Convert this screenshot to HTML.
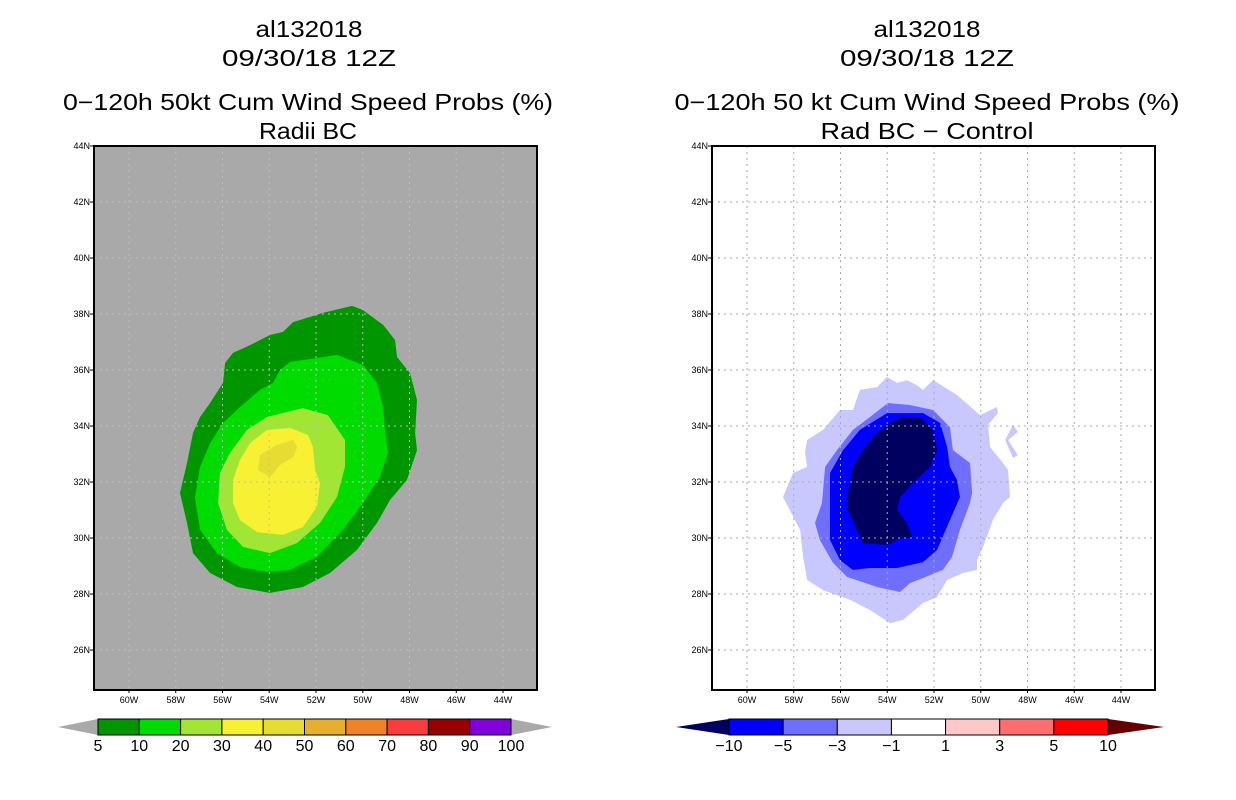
<!DOCTYPE html>
<html><head><meta charset="utf-8"><style>
html,body{margin:0;padding:0;background:#fff}
svg{display:block}
text{font-family:"Liberation Sans",sans-serif;fill:#000}
</style></head><body>
<svg id="chart" width="1236" height="800" xmlns="http://www.w3.org/2000/svg">
<rect width="1236" height="800" fill="#fff"/>
<g font-size="23">
<text x="309" y="37" text-anchor="middle" textLength="107" lengthAdjust="spacingAndGlyphs">al132018</text>
<text x="309" y="66" text-anchor="middle" textLength="174" lengthAdjust="spacingAndGlyphs">09/30/18 12Z</text>
<text x="308" y="110" text-anchor="middle" textLength="490" lengthAdjust="spacingAndGlyphs">0−120h 50kt Cum Wind Speed Probs (%)</text>
<text x="308" y="139" text-anchor="middle" textLength="98" lengthAdjust="spacingAndGlyphs">Radii BC</text>
</g>
<g font-size="23">
<text x="927" y="37" text-anchor="middle" textLength="107" lengthAdjust="spacingAndGlyphs">al132018</text>
<text x="927" y="66" text-anchor="middle" textLength="174" lengthAdjust="spacingAndGlyphs">09/30/18 12Z</text>
<text x="927" y="110" text-anchor="middle" textLength="505" lengthAdjust="spacingAndGlyphs">0−120h 50 kt Cum Wind Speed Probs (%)</text>
<text x="927" y="139" text-anchor="middle" textLength="213" lengthAdjust="spacingAndGlyphs">Rad BC − Control</text>
</g>
<g id="leftMap"></g>
<g id="rightMap"></g>
<g id="leftBar"></g>
<g id="rightBar"></g>
</svg>
<script>
const NS="http://www.w3.org/2000/svg";
// Axis ticks
const latTicks=[26,28,30,32,34,36,38,40,42,44];
const lonTicks=[60,58,56,54,52,50,48,46,44];
// Left panel contours (lonW, lat pairs)
const leftLevels=["5","10","20","30","40"];
const leftColors=["#009600","#00dc00","#a0e632","#f8f032","#e6dc32"];
const left5=[[50.46,38.29],[49.99,38.14],[49.13,37.61],[48.62,37.07],[48.53,36.46],[47.98,35.89],[47.68,34.93],[47.76,33.75],[47.68,33.14],[48.11,32.07],[48.83,31.36],[49.39,30.54],[50.25,29.57],[51.40,28.75],[52.56,28.25],[53.97,28.04],[55.38,28.25],[56.53,28.75],[57.26,29.46],[57.52,30.54],[57.82,31.61],[57.52,32.68],[57.26,33.75],[56.96,34.32],[56.53,34.82],[55.98,35.54],[55.89,36.25],[55.55,36.61],[54.82,36.89],[53.97,37.25],[53.41,37.36],[52.98,37.71],[51.70,38.04]];
const left10=[[51.10,36.54],[49.99,36.18],[49.39,35.54],[49.13,34.68],[49.05,33.86],[48.92,33.04],[49.26,32.18],[49.99,31.25],[50.84,30.29],[51.96,29.32],[53.11,28.86],[54.10,28.79],[55.25,28.96],[56.24,29.46],[56.96,30.29],[57.18,31.46],[56.96,32.54],[56.53,33.39],[55.98,34.11],[55.25,34.68],[54.40,35.29],[53.84,35.54],[53.54,36.00],[53.11,36.29],[51.96,36.43]];
const left20=[[52.56,34.64],[51.49,34.39],[50.76,33.50],[50.76,32.54],[51.10,31.46],[51.83,30.54],[52.81,29.82],[53.97,29.46],[55.12,29.68],[55.81,30.29],[56.19,31.25],[56.11,32.32],[55.68,33.04],[54.95,33.86],[54.10,34.32],[53.24,34.50]];
const left30=[[53.11,33.93],[52.34,33.68],[52.13,33.25],[52.04,32.43],[51.83,31.96],[51.96,31.11],[52.56,30.39],[53.41,30.11],[54.52,30.21],[55.25,30.64],[55.55,31.25],[55.55,32.07],[55.25,32.79],[54.82,33.39],[54.10,33.86]];
const left40=[[53.67,33.32],[52.98,33.50],[52.81,33.25],[52.98,32.89],[53.54,32.61],[53.97,32.18],[54.48,32.43],[54.40,32.96]];
// Right panel contours
const rightLevels=["-1","-3","-5","-10"];
const rightColors=["#c8c8ff","#6e6eff","#0000ff","#000060"];
const right1=[[54.01,35.75],[53.58,35.54],[53.16,35.64],[52.73,35.46],[52.47,35.29],[52.04,35.64],[51.02,35.11],[50.03,34.39],[49.30,34.68],[49.26,34.46],[49.69,34.04],[49.60,33.25],[49.05,32.68],[48.83,32.43],[48.75,31.46],[49.05,31.25],[49.48,30.64],[49.90,29.68],[50.16,29.21],[50.16,28.86],[50.76,28.75],[51.44,28.50],[51.87,27.89],[52.47,27.68],[53.33,27.07],[53.88,26.96],[54.74,27.43],[55.59,27.79],[56.75,28.14],[57.43,28.50],[57.60,29.32],[57.73,30.29],[58.46,31.46],[58.03,32.32],[57.43,32.54],[57.52,33.04],[57.43,33.50],[56.75,33.86],[56.02,34.57],[55.47,34.57],[55.17,35.29],[54.44,35.39]];
const right1b=[[48.62,34.04],[48.41,33.79],[48.83,33.50],[48.41,32.96],[48.62,32.86],[48.96,33.50]];
const right3=[[53.97,34.82],[53.03,34.75],[52.04,34.57],[51.32,33.96],[51.19,33.14],[50.46,32.68],[50.37,31.61],[50.46,31.25],[50.89,30.29],[51.23,29.32],[51.62,28.86],[52.47,28.57],[53.03,28.39],[53.45,28.07],[54.44,28.25],[55.72,28.61],[56.32,29.11],[56.88,29.93],[57.09,30.54],[56.79,31.25],[56.66,32.54],[56.15,33.14],[55.47,33.86],[54.74,34.32]];
const right5=[[54.01,34.46],[52.47,34.46],[51.74,34.11],[51.44,33.25],[51.32,32.54],[51.02,32.07],[50.89,31.46],[51.32,30.64],[51.87,29.57],[52.47,29.14],[53.58,28.93],[54.74,28.93],[55.47,28.86],[56.02,29.21],[56.45,29.93],[56.45,31.00],[56.45,32.32],[55.89,33.14],[55.17,33.86]];
const right10=[[53.45,34.29],[52.60,34.32],[52.04,33.86],[51.87,33.14],[52.17,32.54],[52.90,31.96],[53.45,31.46],[53.58,31.00],[53.16,30.54],[52.94,30.00],[53.45,30.00],[54.01,29.75],[55.04,29.82],[55.30,30.29],[55.68,31.00],[55.68,31.61],[55.47,32.54],[55.04,33.14],[54.44,33.75],[53.88,34.11]];
// Colorbars
const leftBarLabels=["5","10","20","30","40","50","60","70","80","90","100"];
const leftBarColors=["#009600","#00dc00","#a0e632","#f8f032","#e6dc32","#e6af2d","#f08228","#fa3c3c","#960000","#8200dc"];
const rightBarLabels=["−10","−5","−3","−1","1","3","5","10"];
const rightBarColors=["#0000ff","#6e6eff","#c8c8ff","#ffffff","#ffc8c8","#ff6e6e","#ff0000"];

function mk(tag,attrs,parent){const e=document.createElementNS(NS,tag);for(const k in attrs)e.setAttribute(k,attrs[k]);parent.appendChild(e);return e;}
function makeAxes(x0){
  return {x:lon=>x0+(60-lon)*23.375, y:lat=>146+(44-lat)*28};
}
function drawMap(g,x0,left,bg,polys,colors,gridColor){
  const ax=makeAxes(x0);
  const L=left,R=left+443,T=146,B=690;
  const bgr=mk('rect',{x:L,y:T,width:R-L,height:B-T,fill:bg},g);
  
  
  polys.forEach((p,i)=>{
    const path=mk('polygon',{points:p.map(q=>ax.x(q[0]).toFixed(1)+','+ax.y(q[1]).toFixed(1)).join(' '),fill:colors[i]},g);
    
    
  });
  lonTicks.forEach(lon=>{
    const x=ax.x(lon);
    const l=mk('line',{x1:x,x2:x,y1:T,y2:B,stroke:gridColor,'stroke-width':1,'stroke-dasharray':'2,4'},g);
    
    
    const t=mk('text',{x:x,y:B+13,'font-size':9,'text-anchor':'middle'},g);
    t.textContent=lon+'W';
    
    
    mk('line',{x1:x,x2:x,y1:B,y2:B+3,stroke:'#000'},g);
  });
  latTicks.forEach(lat=>{
    const y=ax.y(lat);
    if(lat<44){
      const l=mk('line',{x1:L,x2:R,y1:y,y2:y,stroke:gridColor,'stroke-width':1,'stroke-dasharray':'2,4'},g);
      
      
    }
    mk('line',{x1:L-4,x2:L,y1:y,y2:y,stroke:'#000'},g);
    const t=mk('text',{x:L-4,y:y+3,'font-size':9,'text-anchor':'end'},g);
    t.textContent=lat+'N';
    
    
  });
  const fr=mk('rect',{x:L,y:T,width:R-L,height:B-T,fill:'none',stroke:'#000','stroke-width':2},g);
  
  
}
drawMap(document.getElementById('leftMap'),129,94,'#a9a9a9',[left5,left10,left20,left30,left40],leftColors,'#bdbdbd');
drawMap(document.getElementById('rightMap'),747,712,'#ffffff',[right1,right1b,right3,right5,right10],[rightColors[0],rightColors[0],rightColors[1],rightColors[2],rightColors[3]],'#aaaaaa');

function drawBar(g,x0,x1,tipL,tipR,colors,labels,tipLC,tipRC){
  const y0=719,y1=735,ym=727,w=(x1-x0)/colors.length;
  const a=mk('polygon',{points:`${tipL},${ym} ${x0},${y0} ${x0},${y1}`,fill:tipLC},g);
  
  
  const b=mk('polygon',{points:`${tipR},${ym} ${x1},${y0} ${x1},${y1}`,fill:tipRC},g);
  
  
  colors.forEach((c,i)=>{
    const r=mk('rect',{x:x0+i*w,y:y0,width:w,height:y1-y0,fill:c,stroke:'#000','stroke-width':1},g);
    
    
  });
  labels.forEach((s,i)=>{
    const t=mk('text',{x:x0+i*w,y:751,'font-size':16,'text-anchor':'middle'},g);
    t.textContent=s;
    
    
  });
}
drawBar(document.getElementById('leftBar'),98,511,58,552,leftBarColors,leftBarLabels,'#a9a9a9','#a9a9a9');
drawBar(document.getElementById('rightBar'),729,1108,676,1164,rightBarColors,rightBarLabels,'#000060','#640000');
</script>
</body></html>
